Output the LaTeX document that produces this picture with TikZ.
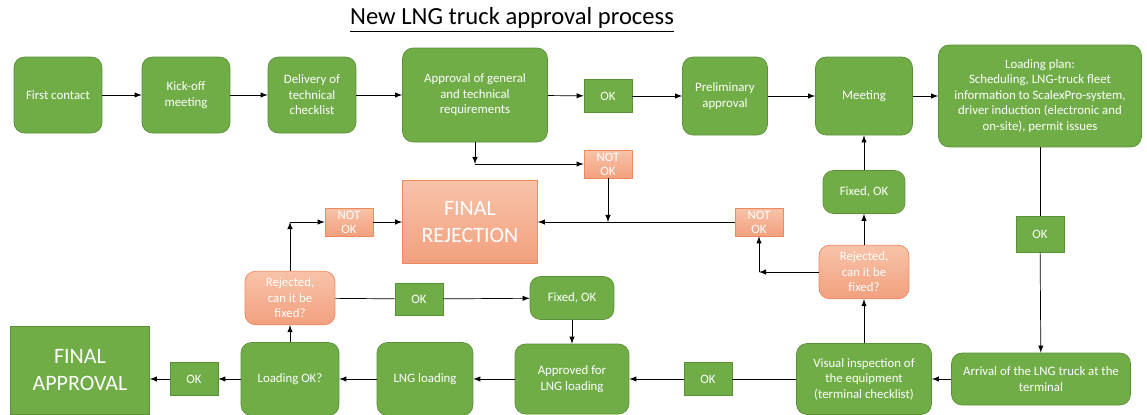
\documentclass[tikz,border=0pt]{standalone}
\usepackage{fontspec}
\setmainfont{Carlito}
\usetikzlibrary{arrows, positioning, calc}

\definecolor{lnggreen}{HTML}{70AD47}
\definecolor{lnggreenline}{HTML}{5B8F38}
\definecolor{lngorange}{HTML}{F2A07E}
\definecolor{lngorangetop}{HTML}{F8C3A9}
\definecolor{lngorangeline}{HTML}{EE8A5E}

\begin{document}
\begin{tikzpicture}[
        x=0.02cm, y=-0.02cm,
        greenbox/.style={rectangle, rounded corners=6pt, text centered, align=center, draw=lnggreenline, fill=lnggreen, text=white, font=\fontsize{7.3}{8.8}\selectfont},
        okbox/.style={rectangle, minimum width=0.96cm, minimum height=0.66cm, text centered, draw=lnggreenline, fill=lnggreen, text=white, font=\fontsize{7.3}{8.8}\selectfont},
        notok/.style={rectangle, minimum width=0.96cm, minimum height=0.56cm, inner sep=1pt, align=center, draw=lngorangeline, top color=lngorangetop, bottom color=lngorange, text=white, font=\fontsize{7.3}{8}\selectfont},
        rejbox/.style={rectangle, rounded corners=6pt, minimum width=1.8cm, minimum height=1.07cm, align=center, draw=lngorangeline, top color=lngorangetop, bottom color=lngorange, text=white, font=\fontsize{7.3}{8.8}\selectfont},
        arrow/.style={->,>=latex, black},
        line/.style={black},
    ]
        \useasboundingbox (0,0) rectangle (1147,414);

        % Title
        \node (title) at (512,20) {\fontsize{14}{16}\selectfont\underline{New LNG truck approval process}};

        % Top row
        \node (first) [greenbox, minimum width=1.76cm, minimum height=1.52cm] at (58,95) {First contact};
        \node (kickoff) [greenbox, minimum width=1.76cm, minimum height=1.52cm] at (186,95) {Kick-off\\meeting};
        \node (delivery) [greenbox, minimum width=1.76cm, minimum height=1.52cm] at (312,95) {Delivery of\\technical\\checklist};
        \node (approval) [greenbox, minimum width=2.9cm, minimum height=1.88cm] at (475,95) {Approval of general\\and technical\\requirements};
        \node (okA) [okbox] at (608,96) {OK};
        \node (prelim) [greenbox, minimum width=1.7cm, minimum height=1.56cm] at (725,96) {Preliminary\\approval};
        \node (meeting) [greenbox, minimum width=1.94cm, minimum height=1.56cm] at (864,96) {Meeting};
        \node (plan) [greenbox, minimum width=4.06cm, minimum height=2.04cm] at (1040,96) {Loading plan:\\Scheduling, LNG-truck fleet\\information to ScalexPro-system,\\driver induction (electronic and\\on-site), permit issues};

        % Rejection row
        \node (notokA) [notok] at (608,164) {NOT\\OK};
        \node (rejection) [rectangle, minimum width=2.7cm, minimum height=1.66cm, align=center, draw=lngorangeline, top color=lngorangetop, bottom color=lngorange, text=white, font=\fontsize{12.5}{15}\selectfont] at (470,222) {FINAL\\REJECTION};
        \node (notokL) [notok] at (349,222) {NOT\\OK};
        \node (notokR) [notok] at (759,222) {NOT\\OK};

        % Middle row
        \node (fixedR) [greenbox, minimum width=1.64cm, minimum height=0.86cm] at (864,192) {Fixed, OK};
        \node (rejR) [rejbox] at (864,272) {Rejected,\\can it be\\fixed?};
        \node (okR) [okbox, minimum height=0.72cm] at (1040,234) {OK};
        \node (rejL) [rejbox] at (290,298) {Rejected,\\can it be\\fixed?};
        \node (okM) [okbox, minimum height=0.64cm] at (419,299) {OK};
        \node (fixedL) [greenbox, minimum width=1.68cm, minimum height=0.86cm] at (572,298) {Fixed, OK};

        % Bottom row
        \node (approvalF) [rectangle, minimum width=2.78cm, minimum height=1.76cm, align=center, draw=lnggreenline, fill=lnggreen, text=white, font=\fontsize{12.5}{15}\selectfont] at (80,370) {FINAL\\APPROVAL};
        \node (okBL) [okbox] at (194,379) {OK};
        \node (loadok) [greenbox, minimum width=1.96cm, minimum height=1.46cm] at (290,379) {Loading OK?};
        \node (lngload) [greenbox, minimum width=1.92cm, minimum height=1.46cm] at (425,379) {LNG loading};
        \node (approved) [greenbox, minimum width=2.28cm, minimum height=1.4cm] at (572,379) {Approved for\\LNG loading};
        \node (okB) [okbox] at (708,379) {OK};
        \node (visual) [greenbox, minimum width=2.7cm, minimum height=1.42cm] at (864,379) {Visual inspection of\\the equipment\\(terminal checklist)};
        \node (arrival) [greenbox, minimum width=3.58cm, minimum height=1.04cm] at (1041,379) {Arrival of the LNG truck at the\\terminal};

        % Corner points
        \coordinate (cornerA) at (approval.south |- notokA.west);
        \coordinate (joinA) at (notokA.south |- rejection.east);
        \coordinate (cornerR) at (notokR.south |- rejR.west);
        \coordinate (cornerL) at (rejL.north |- notokL.west);

        % Top row connections
        \draw [arrow] (first) -- (kickoff);
        \draw [arrow] (kickoff) -- (delivery);
        \draw [arrow] (delivery) -- (approval);
        \draw [arrow] (approval) -- (okA);
        \draw [arrow] (okA) -- (prelim);
        \draw [arrow] (prelim) -- (meeting);
        \draw [arrow] (meeting) -- (plan);

        % Not OK paths to final rejection
        \draw [arrow] (approval.south) -- (cornerA);
        \draw [arrow] (cornerA) -- (notokA.west);
        \draw [arrow] (notokA.south) -- (joinA);
        \draw [arrow] (notokR.west) -- (rejection.east);
        \draw [arrow] (rejR.west) -- (cornerR);
        \draw [arrow] (cornerR) -- (notokR.south);
        \draw [arrow] (rejL.north) -- (cornerL);
        \draw [arrow] (cornerL) -- (notokL.west);
        \draw [arrow] (notokL) -- (rejection);

        % Right side
        \draw [line] (plan) -- (okR);
        \draw [arrow] (okR) -- (arrival);
        \draw [arrow] (arrival) -- (visual);
        \draw [arrow] (visual) -- (rejR);
        \draw [arrow] (rejR) -- (fixedR);
        \draw [arrow] (fixedR) -- (meeting);

        % Bottom row connections
        \draw [line] (visual) -- (okB);
        \draw [arrow] (okB) -- (approved);
        \draw [arrow] (fixedL) -- (approved);
        \draw [arrow] (approved) -- (lngload);
        \draw [arrow] (lngload) -- (loadok);
        \draw [arrow] (loadok) -- (rejL);
        \draw [line] (rejL) -- (okM);
        \draw [arrow] (okM) -- (fixedL);
        \draw [arrow] (loadok) -- (okBL);
        \draw [arrow] (okBL.west) -- (okBL.west -| approvalF.east);
    \end{tikzpicture}
\end{document}
